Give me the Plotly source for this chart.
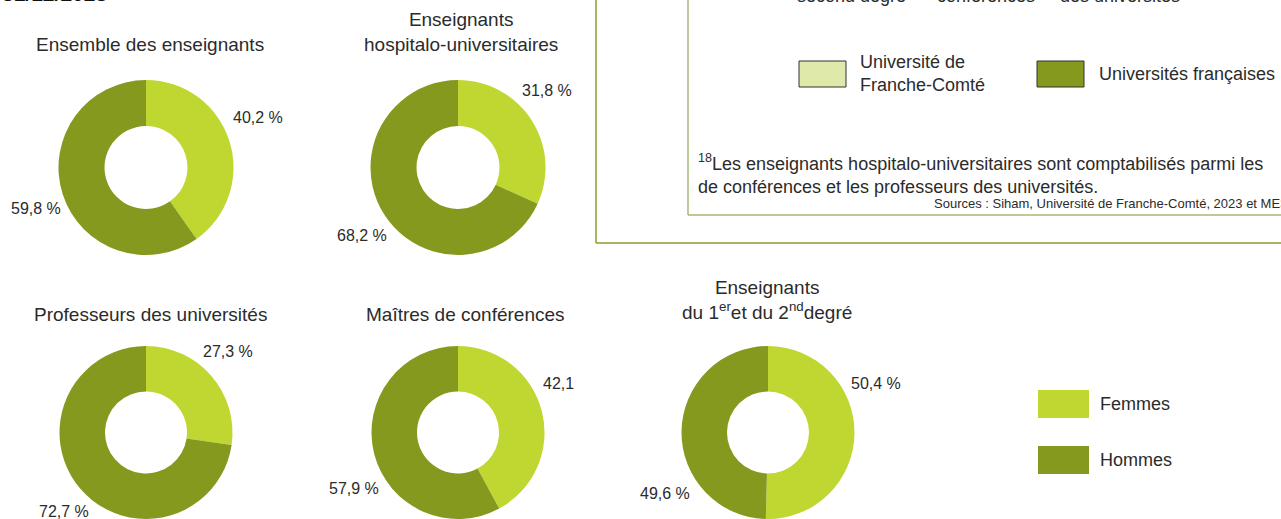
import plotly.graph_objects as go

# Data
titres   = ['Ensemble des enseignants',
            'Enseignants<br>hospitalo-universitaires',
            'Professeurs des universités',
            'Maîtres de conférences',
            'Enseignants<br>du 1<sup>er</sup>et du 2<sup>nd</sup>degré']
femmes   = [40.2, 31.8, 27.3, 42.1, 50.4]
hommes   = [59.8, 68.2, 72.7, 57.9, 49.6]
suffixF  = [' %', ' %', ' %', '', ' %']
suffixH  = [' %', ' %', ' %', ' %', ' %']
series   = ['Femmes', 'Hommes']

# Style
W, H       = 1281, 519
cFemmes    = '#bfd730'
cHommes    = '#86991f'
txtColor   = '#2b2b2b'
font       = 'Liberation Sans, Arial, sans-serif'
R          = 87.5
centres    = [(146, 167.5), (458, 167.5), (146, 433.5), (458, 433.5), (768, 433.5)]
titlePos   = [(150, 44), (461, 32), (150, 314), (465, 314), (767, 300)]
posF       = [(258, 118, 'center'), (547, 90, 'center'), (228, 351, 'center'), (541, 383, 'left'), (876, 383, 'center')]
posH       = [(36, 208), (362, 235), (64, 511), (354, 488), (665, 493)]

def px(x): return x / W
def py(y): return 1 - y / H
def fr(v): return f'{v:.1f}'.replace('.', ',')

fig = go.Figure()

for i, (cx, cy) in enumerate(centres):
    y0 = max(0.0, py(cy + R))
    y1 = min(1.0, py(cy - R))
    fig.add_trace(go.Pie(labels=series, values=[femmes[i], hommes[i]], sort=False, direction='clockwise', rotation=0,
                         hole=0.474, textinfo='none', hoverinfo='label+percent', showlegend=False,
                         marker=dict(colors=[cFemmes, cHommes], line=dict(width=0)),
                         domain=dict(x=[px(cx - R), px(cx + R)], y=[y0, y1])))

annots = []
for i, t in enumerate(titres):
    annots.append(dict(x=px(titlePos[i][0]), y=py(titlePos[i][1]), text=t, font=dict(size=19, color=txtColor)))
    fx, fy, anc = posF[i]
    annots.append(dict(x=px(fx), y=py(fy), xanchor=anc, text=fr(femmes[i]) + suffixF[i], font=dict(size=16, color=txtColor)))
    annots.append(dict(x=px(posH[i][0]), y=py(posH[i][1]), text=fr(hommes[i]) + suffixH[i], font=dict(size=16, color=txtColor)))

# Legend (Femmes / Hommes)
shapes = []
for j, (name, col) in enumerate(zip(series, [cFemmes, cHommes])):
    yy = 390 + j * 56
    shapes.append(dict(type='rect', x0=px(1038), x1=px(1089), y0=py(yy), y1=py(yy + 28), fillcolor=col, line=dict(width=0)))
    annots.append(dict(x=px(1098), y=py(yy + 14), xanchor='left', text=name, font=dict(size=18, color=txtColor)))

# Cropped frame on the right
shapes += [
    dict(type='line', x0=px(596), x1=px(596), y0=py(0), y1=py(243), line=dict(color='#8c9c2c', width=1.5)),
    dict(type='line', x0=px(596), x1=1, y0=py(243), y1=py(243), line=dict(color='#8c9c2c', width=1.5)),
    dict(type='line', x0=px(688), x1=px(688), y0=py(0), y1=py(215), line=dict(color='#a9b779', width=1.5)),
    dict(type='line', x0=px(688), x1=1, y0=py(215), y1=py(215), line=dict(color='#a9b779', width=1.5)),
    dict(type='rect', x0=px(799), x1=px(846), y0=py(61), y1=py(87), fillcolor='#dfe9a9', line=dict(color='#333333', width=1)),
    dict(type='rect', x0=px(1037), x1=px(1084), y0=py(61), y1=py(87), fillcolor='#86991f', line=dict(color='#333333', width=1)),
]
annots += [
    dict(x=px(858), y=py(74), xanchor='left', align='left', text='Université de<br>Franche-Comté', font=dict(size=18, color=txtColor)),
    dict(x=px(1097), y=py(74), xanchor='left', text='Universités françaises', font=dict(size=18, color=txtColor)),
    dict(x=px(696), y=py(174), xanchor='left', align='left',
         text='<sup>18</sup>Les enseignants hospitalo-universitaires sont comptabilisés parmi les<br>de conférences et les professeurs des universités.',
         font=dict(size=18, color=txtColor)),
    dict(x=px(932), y=py(203), xanchor='left', text='Sources : Siham, Université de Franche-Comté, 2023 et MESR',
         font=dict(size=13, color=txtColor)),
    dict(x=px(795), y=py(-4), xanchor='left', text='second degré', font=dict(size=18, color=txtColor)),
    dict(x=px(935), y=py(-4), xanchor='left', text='conférences', font=dict(size=18, color=txtColor)),
    dict(x=px(1058), y=py(-4), xanchor='left', text='des universités', font=dict(size=18, color=txtColor)),
    dict(x=px(0), y=py(-6), xanchor='left', text='<b>31/12/2023</b>', font=dict(size=21, color='#111111')),
]

for a in annots:
    a.update(xref='paper', yref='paper', showarrow=False)
    a.setdefault('xanchor', 'center')
    a.setdefault('yanchor', 'middle')
for s in shapes:
    s.update(xref='paper', yref='paper')

fig.update_layout(width=W, height=H, margin=dict(l=0, r=0, t=0, b=0), paper_bgcolor='white', plot_bgcolor='white',
                  font=dict(family=font), annotations=annots, shapes=shapes)

fig.write_html('out.html', config={'displayModeBar': False},
               post_script="document.body.style.margin='0';document.body.style.overflow='hidden';")
